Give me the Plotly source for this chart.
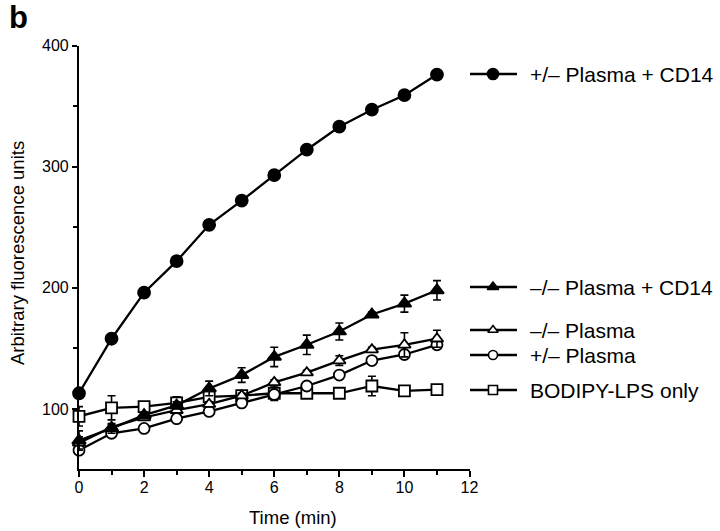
import plotly.graph_objects as go

time_min = list(range(12))

cd14_het = [113, 158, 196, 222, 252, 272, 293, 314, 333, 347, 359, 376]
cd14_het_err = [1, 1, 1, 1, 1, 1, 1, 1, 1, 1, 1, 1]

cd14_ko = [74, 84, 95, 103, 117, 128, 143, 153, 164, 178, 187, 198]
cd14_ko_err = [8, 4, 2, 3, 6, 6, 8, 8, 7, 2, 7, 8]

plasma_ko = [72, 85, 93, 99, 104, 111, 122, 130, 140, 149, 153, 158]
plasma_ko_err = [5, 2, 2, 2, 2, 2, 2, 2, 4, 2, 10, 7]

plasma_het = [66, 80, 84, 92, 98, 105, 112, 119, 128, 140, 145, 153]
plasma_het_err = [3, 2, 1, 1, 1, 1, 1, 1, 1, 1, 1, 1]

bodipy = [94, 101, 102, 105, 110, 111, 113, 113, 113, 119, 115, 116]
bodipy_err = [8, 10, 2, 5, 2, 2, 6, 2, 3, 8, 3, 3]

labels = ["+/\u2013 Plasma + CD14", "\u2013/\u2013 Plasma + CD14",
          "\u2013/\u2013 Plasma", "+/\u2013 Plasma", "BODIPY-LPS only"]

FONT = "Liberation Sans, Arial, Helvetica, sans-serif"
W, H = 720, 531

series = [
    (cd14_het, cd14_het_err, "circle", "black", 12),
    (cd14_ko, cd14_ko_err, "triangle-up", "black", 12),
    (plasma_ko, plasma_ko_err, "triangle-up", "white", 11),
    (plasma_het, plasma_het_err, "circle", "white", 11),
    (bodipy, bodipy_err, "square", "white", 11),
]

fig = go.Figure()

# draw order: bodipy first, cd14_het last
for idx in [4, 3, 2, 1, 0]:
    vals, err, sym, fill, size = series[idx]
    fig.add_trace(go.Scatter(
        x=time_min, y=vals,
        mode="lines+markers",
        line=dict(color="black", width=2.3),
        marker=dict(symbol=sym, color=fill, size=size,
                    line=dict(color="black", width=1.8)),
        error_y=dict(type="data", array=err, visible=True,
                     color="black", thickness=1.6, width=4),
        cliponaxis=False,
        showlegend=False,
        name=labels[idx],
    ))

# legend samples in pixel coordinates (overlay subplot)
legend_y = [74, 287, 330, 355, 390]
legend_marker_size = [11, 10, 9, 9, 9]
for i, (vals, err, sym, fill, size) in enumerate(series):
    yp = legend_y[i]
    fig.add_trace(go.Scatter(
        x=[470, 517], y=[yp, yp], mode="lines",
        line=dict(color="black", width=2.3),
        xaxis="x2", yaxis="y2", showlegend=False, hoverinfo="skip"))
    fig.add_trace(go.Scatter(
        x=[493], y=[yp], mode="markers",
        marker=dict(symbol=sym, color=fill, size=legend_marker_size[i],
                    line=dict(color="black", width=1.6)),
        xaxis="x2", yaxis="y2", showlegend=False, hoverinfo="skip"))
    fig.add_annotation(x=528, y=yp, xref="x2", yref="y2", text=labels[i],
                       showarrow=False, xanchor="left", yanchor="middle",
                       font=dict(family=FONT, size=21, color="black"))

fig.add_annotation(x=7, y=17, xref="x2", yref="y2", text="<b>b</b>",
                   showarrow=False, xanchor="left", yanchor="middle",
                   font=dict(family=FONT, size=31, color="black"))

# axis titles
fig.add_annotation(x=293, y=517, xref="x2", yref="y2", text="Time (min)",
                   showarrow=False, xanchor="center", yanchor="middle",
                   font=dict(family=FONT, size=18.5, color="black"))
fig.add_annotation(x=17, y=253, xref="x2", yref="y2",
                   text="Arbitrary fluorescence units", textangle=-90,
                   showarrow=False, xanchor="center", yanchor="middle",
                   font=dict(family=FONT, size=18.5, color="black"))

fig.update_layout(
    width=W, height=H,
    margin=dict(l=0, r=0, t=0, b=0, pad=0),
    paper_bgcolor="white",
    plot_bgcolor="rgba(0,0,0,0)",
    font=dict(family=FONT, size=16, color="black"),
    xaxis=dict(
        domain=[79 / W, 469.5 / W], range=[0, 12],
        tickmode="array", tickvals=[0, 2, 4, 6, 8, 10, 12],
        ticks="outside", ticklen=6, tickwidth=1.6, tickcolor="black",
        minor=dict(tickmode="array", tickvals=[1, 3, 5, 7, 9, 11],
                   ticks="outside", ticklen=4, tickwidth=1.6, tickcolor="black"),
        showline=True, linecolor="black", linewidth=2.2,
        showgrid=False, zeroline=False,
        tickfont=dict(size=16),
        ticklabelstandoff=-3,
        automargin=False,
        anchor="y",
    ),
    yaxis=dict(
        domain=[(H - 469) / H, (H - 45.5) / H], range=[50.5, 400],
        tickmode="array", tickvals=[100, 200, 300, 400],
        ticks="outside", ticklen=5, tickwidth=1.6, tickcolor="black",
        minor=dict(tickmode="array", tickvals=[150, 250, 350],
                   ticks="outside", ticklen=4, tickwidth=1.6, tickcolor="black"),
        showline=True, linecolor="black", linewidth=2.2,
        showgrid=False, zeroline=False,
        tickfont=dict(size=16),
        automargin=False,
        anchor="x",
    ),
    xaxis2=dict(domain=[0, 1], range=[0, W], visible=False, anchor="y2",
                fixedrange=True, automargin=False),
    yaxis2=dict(domain=[0, 1], range=[H, 0], visible=False, anchor="x2",
                fixedrange=True, automargin=False),
)

fig.write_html(
    "out.html",
    config={"displayModeBar": False},
    post_script="document.body.style.margin='0';document.body.style.padding='0';"
                "document.body.style.overflow='hidden';",
)
